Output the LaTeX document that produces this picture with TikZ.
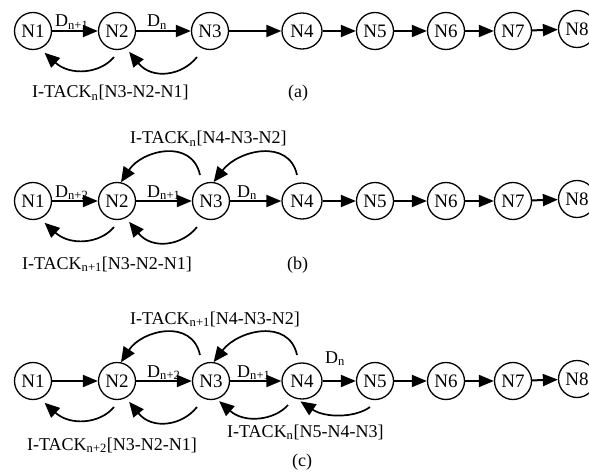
\documentclass[tikz,border=0pt]{standalone}
\usepackage{fontspec}
\setmainfont{Liberation Serif}
\usetikzlibrary{arrows.meta,shapes.geometric}
\newcommand\figfont{\fontsize{18}{21}\selectfont}
\newcommand\nodefont{\fontsize{19}{21}\selectfont}
\tikzset{
  nd/.style={circle,draw,line width=1.3pt,minimum size=37pt,inner sep=0pt,font=\nodefont},
  ndwide/.style={ellipse,draw,line width=1.3pt,minimum width=40pt,minimum height=36pt,inner sep=0pt,font=\nodefont},
  fwd/.style={line width=2pt,-{Triangle[length=15pt,width=12pt]}},
  back/.style={line width=1.7pt,-{Triangle[length=15pt,width=13pt]}},
  lbl/.style={anchor=base west,inner sep=0pt,font=\figfont},
}
\begin{document}
\begin{tikzpicture}[x=1pt,y=-1pt]
\useasboundingbox (0,0) rectangle (589,476);
\clip (0,0) rectangle (589,476);

% ---------------- row (a)
\node[nd] (a1) at (33,31) {N1};
\node[nd] (a2) at (117,31) {N2};
\node[nd] (a3) at (210,31) {N3};
\node[ndwide] (a4) at (302,31) {N4};
\node[nd] (a5) at (375,31) {N5};
\node[nd] (a6) at (446,31) {N6};
\node[nd] (a7) at (513,31) {N7};
\node[nd] (a8) at (577,29) {N8};
\foreach \i/\j in {1/2,2/3,3/4,4/5,5/6,6/7,7/8} \draw[fwd] (a\i) -- (a\j);
\node[lbl] (ad1) at (55,27) {D\textsubscript{n+1}};
\node[lbl] (ad2) at (147,27) {D\textsubscript{n}};
\coordinate (as2) at (114,57);
\coordinate (as3) at (197,57);
\draw[back,shorten >=6pt] (as2) .. controls (100,74) and (70,76) .. (a1.-68);
\draw[back,shorten >=5pt] (as3) .. controls (182,76) and (152,80) .. (a2.-62);
\node[lbl] (alow) at (32,98) {I-TACK\textsubscript{n}[N3-N2-N1]};
\node[lbl] (acap) at (288,98) {(a)};

% ---------------- row (b)
\node[nd] (b1) at (33,201) {N1};
\node[nd] (b2) at (117,201) {N2};
\node[nd] (b3) at (211,201) {N3};
\node[ndwide] (b4) at (302,201) {N4};
\node[nd] (b5) at (375,201) {N5};
\node[nd] (b6) at (446,201) {N6};
\node[nd] (b7) at (513,201) {N7};
\node[nd] (b8) at (577,199) {N8};
\foreach \i/\j in {1/2,2/3,3/4,4/5,5/6,6/7,7/8} \draw[fwd] (b\i) -- (b\j);
\node[lbl] (bd1) at (55,197) {D\textsubscript{n+2}};
\node[lbl] (bd2) at (147,197) {D\textsubscript{n+1}};
\node[lbl] (bd3) at (237,197) {D\textsubscript{n}};
\coordinate (bs2) at (114,227);
\coordinate (bs3) at (197,227);
\draw[back,shorten >=6pt] (bs2) .. controls (100,244) and (70,246) .. (b1.-68);
\draw[back,shorten >=5pt] (bs3) .. controls (182,246) and (152,250) .. (b2.-62);
\coordinate (bu3) at (200,175);
\coordinate (bu4) at (297,175);
\draw[back] (bu3) .. controls (192,138) and (142,150) .. (b2.78);
\draw[back] (bu4) .. controls (289,138) and (238,150) .. (b3.82);
\node[lbl] (bup) at (130,144) {I-TACK\textsubscript{n}[N4-N3-N2]};
\node[lbl] (blow) at (22,269) {I-TACK\textsubscript{n+1}[N3-N2-N1]};
\node[lbl] (bcap) at (287,269) {(b)};

% ---------------- row (c)
\node[nd] (c1) at (33,381) {N1};
\node[nd] (c2) at (117,381) {N2};
\node[nd] (c3) at (211,381) {N3};
\node[ndwide] (c4) at (302,381) {N4};
\node[nd] (c5) at (375,381) {N5};
\node[nd] (c6) at (446,381) {N6};
\node[nd] (c7) at (513,381) {N7};
\node[nd] (c8) at (577,379) {N8};
\foreach \i/\j in {1/2,2/3,3/4,4/5,5/6,6/7,7/8} \draw[fwd] (c\i) -- (c\j);
\node[lbl] (cd1) at (147,377) {D\textsubscript{n+2}};
\node[lbl] (cd2) at (237,377) {D\textsubscript{n+1}};
\node[lbl] (cd3) at (325,363) {D\textsubscript{n}};
\coordinate (cs2) at (114,407);
\coordinate (cs3) at (197,407);
\coordinate (cs4) at (288,405);
\coordinate (cs5) at (370,407);
\draw[back,shorten >=6pt] (cs2) .. controls (100,424) and (70,426) .. (c1.-68);
\draw[back,shorten >=5pt] (cs3) .. controls (182,426) and (152,430) .. (c2.-62);
\draw[back,shorten >=3pt] (cs4) .. controls (275,420) and (245,424) .. (c3.-72);
\draw[back,shorten >=4pt] (cs5) .. controls (355,418) and (325,418) .. (c4.-105);
\coordinate (cu3) at (200,355);
\coordinate (cu4) at (297,355);
\draw[back] (cu3) .. controls (192,318) and (142,330) .. (c2.78);
\draw[back] (cu4) .. controls (289,318) and (238,330) .. (c3.82);
\node[lbl] (cup) at (130,324) {I-TACK\textsubscript{n+1}[N4-N3-N2]};
\node[lbl] (clow) at (27,450) {I-TACK\textsubscript{n+2}[N3-N2-N1]};
\node[lbl] (clow2) at (227,437) {I-TACK\textsubscript{n}[N5-N4-N3]};
\node[lbl] (ccap) at (292,466) {(c)};
\end{tikzpicture}
\end{document}
